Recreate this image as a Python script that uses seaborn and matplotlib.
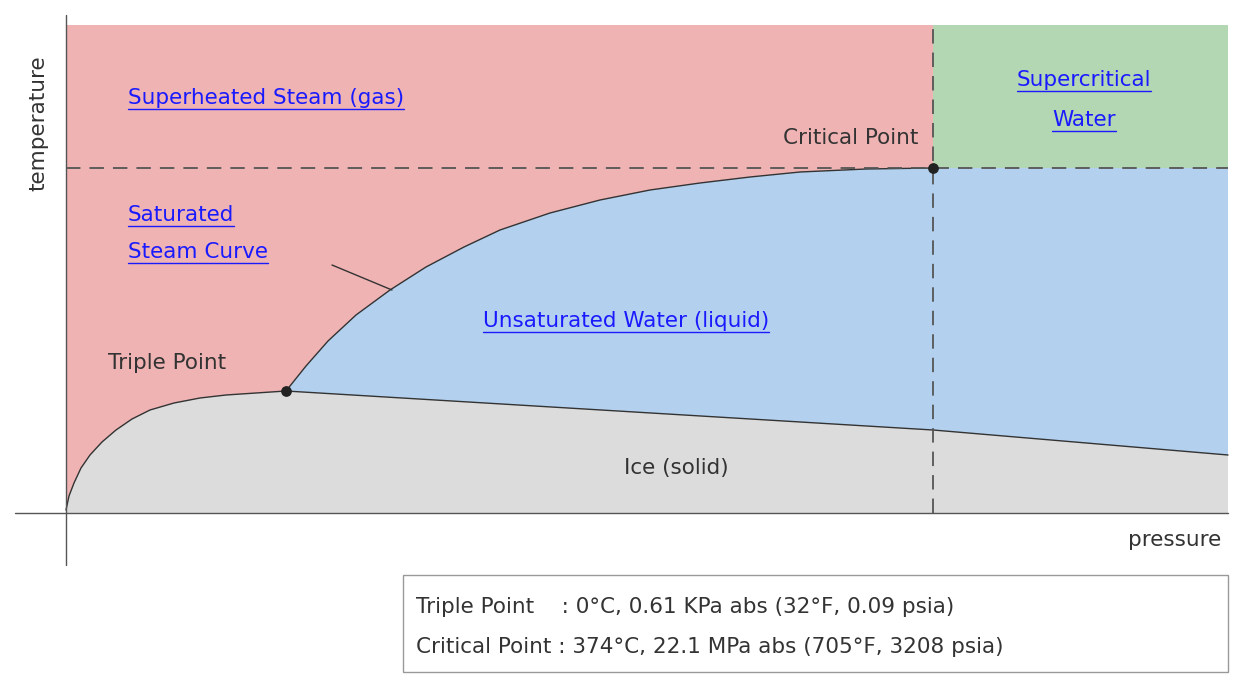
import matplotlib
matplotlib.use("Agg")
import matplotlib.pyplot as plt
import seaborn as sns
import numpy as np

sns.set_theme(style="white")
plt.rcParams['font.family'] = ['DejaVu Sans']

# schematic data (x: pressure units, y: temperature units)
triple = (220, 122)
critical = (867, 345)
xmax, ymax = 1162, 488
sub_x = [0, 3, 8, 15, 24, 36, 50, 66, 84, 108, 134, 160, 190, 220]
sub_y = [3, 17, 30, 45, 58, 71, 83, 94, 103, 110, 115, 118, 120, 122]
sat_x = [220, 240, 262, 290, 324, 360, 398, 434, 484, 534, 584, 634, 684, 734, 800, 867]
sat_y = [122, 147, 172, 198, 223, 246, 266, 283, 300, 313, 323, 330, 336, 341, 344, 345]
melt_x = [220, 867, 1162]
melt_y = [122, 83, 58]

fig = plt.figure(figsize=(12.5, 6.9), dpi=100)
ax = fig.add_axes([0, 0, 1, 1])
ax.set_xlim(-66, 1184)
ax.set_ylim(-177, 513)
ax.axis('off')

red, green, blue, gray = '#efb3b3', '#b3d6b3', '#b3d1ee', '#dcdcdc'
ax.fill_between([0, xmax], 0, ymax, color=red, lw=0)
ax.fill_between([critical[0], xmax], critical[1], ymax, color=green, lw=0)
bx = sat_x + [xmax, xmax] + melt_x[::-1]
by = sat_y + [critical[1], melt_y[-1]] + melt_y[::-1]
ax.fill(bx, by, color=blue, lw=0)
gx = sub_x + melt_x[1:] + [xmax, 0]
gy = sub_y + melt_y[1:] + [0, 0]
ax.fill(gx, gy, color=gray, lw=0)

lc = '#333333'
ax.plot(sub_x, sub_y, color=lc, lw=1)
ax.plot(sat_x, sat_y, color=lc, lw=1)
ax.plot(melt_x, melt_y, color=lc, lw=1)
ax.plot([0, xmax], [critical[1]] * 2, color='#555', lw=1.3, dashes=(8, 5))
ax.plot([critical[0]] * 2, [0, ymax], color='#555', lw=1.3, dashes=(8, 5))
ax.plot([-51, xmax], [0, 0], color='#555', lw=1)
ax.plot([0, 0], [-52, ymax + 10], color='#555', lw=1)
ax.plot([266, 326], [248, 223], color=lc, lw=1)
ax.scatter(*zip(triple, critical), s=45, color='#222', zorder=5)

fs = 15.5
tc = '#333333'
ax.text(1155, -27, 'pressure', fontsize=fs, color=tc, ha='right', va='center')
ax.text(-28, 390, 'temperature', fontsize=fs, color=tc, rotation=90, ha='center', va='center')
ax.text(42, 150, 'Triple Point', fontsize=fs, color=tc, va='center')
ax.text(852, 375, 'Critical Point', fontsize=fs, color=tc, ha='right', va='center')
ax.text(610, 45, 'Ice (solid)', fontsize=fs, color=tc, ha='center', va='center')

links = [
    (62, 415, 'Superheated Steam (gas)', 'left'),
    (62, 298, 'Saturated', 'left'),
    (62, 261, 'Steam Curve', 'left'),
    (417, 192, 'Unsaturated Water (liquid)', 'left'),
    (1018, 433, 'Supercritical', 'center'),
    (1018, 393, 'Water', 'center'),
]
texts = [ax.text(x, y, s, fontsize=fs, color='#1a1aff', ha=h, va='center') for x, y, s, h in links]
fig.canvas.draw()
inv = ax.transData.inverted()
for t in texts:
    bb = t.get_window_extent()
    (x0, y0), (x1, _) = inv.transform([(bb.x0, bb.y0), (bb.x1, bb.y1)])
    ax.plot([x0, x1], [y0 - 1, y0 - 1], color='#1a1aff', lw=1)

ax.add_patch(plt.Rectangle((337, -159), 825, 97, fill=False, ec='#999', lw=1))
ax.text(350, -94, 'Triple Point    : 0°C, 0.61 KPa abs (32°F, 0.09 psia)', fontsize=fs, color=tc, va='center')
ax.text(350, -134, 'Critical Point : 374°C, 22.1 MPa abs (705°F, 3208 psia)', fontsize=fs, color=tc, va='center')

fig.savefig('out.png', dpi=100, facecolor='white')
